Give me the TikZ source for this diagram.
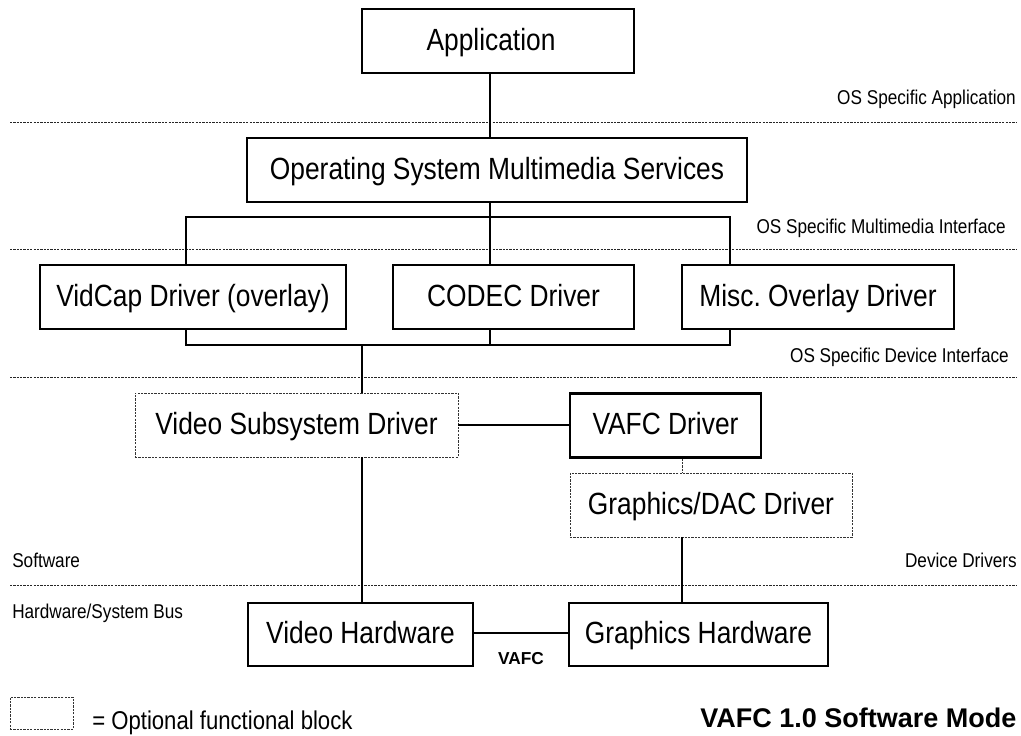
\documentclass[tikz,border=0pt]{standalone}
\usepackage{fontspec}
\setmainfont{Liberation Sans}
\newfontfamily\narrowfont{Liberation Sans}[FakeStretch=0.86]
\usetikzlibrary{positioning, calc}

\begin{document}
\frenchspacing
\begin{tikzpicture}[
    x=0.025cm, y=-0.025cm,
    % Node styles
    blockbox/.style={
        rectangle,
        draw=black,
        line width=1.5pt,
        inner sep=0pt,
        minimum height=1.6cm,
        text height=15.7pt,
        text depth=2.8pt,
        font=\narrowfont\fontsize{21.8}{24}\selectfont,
        align=center
    },
    optbox/.style={
        blockbox,
        line width=0.5pt,
        dash pattern=on 1.6pt off 0.8pt,
        draw=black!80
    },
    layerlabel/.style={
        inner sep=0pt,
        font=\narrowfont\fontsize{14.2}{16}\selectfont
    },
    link/.style={
        line width=1.4pt,
        black
    },
    optlink/.style={
        line width=0.5pt,
        dash pattern=on 1.6pt off 0.8pt,
        black!80
    },
    sepline/.style={
        line width=0.4pt,
        dash pattern=on 1.6pt off 0.8pt,
        black!85
    }
]
\useasboundingbox (0,0) rectangle (1021,736);

% === Layer separators ===
\draw[sepline] (10,122) -- (1017,122);
\draw[sepline] (10,249) -- (1017,249);
\draw[sepline] (10,377) -- (1017,377);
\draw[sepline] (10,585) -- (1017,585);

\node[layerlabel, anchor=base east] (lblapp) at (1016,105) {OS Specific Application};
\node[layerlabel, anchor=base east] (lblmm) at (1006,233) {OS Specific Multimedia Interface};
\node[layerlabel, anchor=base east] (lbldev) at (1009,362) {OS Specific Device Interface};
\node[layerlabel, anchor=base east] (lbldrv) at (1017,567) {Device Drivers};
\node[layerlabel, anchor=base west] (lblsw) at (12,567) {Software};
\node[layerlabel, anchor=base west] (lblhw) at (12,618) {Hardware/System Bus};

% === Blocks ===
\node[blockbox, minimum width=6.8cm] (app) at (498,41) {\hspace*{-0.35cm}Application};
\node[blockbox, minimum width=12.5cm] (osms) at (497,170) {Operating System Multimedia Services};

\node[blockbox, minimum width=7.65cm] (vidcap) at (193,297) {VidCap Driver (overlay)};
\node[blockbox, minimum width=6.025cm] (codec) at (513.5,297) {CODEC Driver};
\node[blockbox, minimum width=6.8cm] (misc) at (818,297) {Misc. Overlay Driver};

\node[optbox, minimum width=8.075cm] (vsd) at (296.5,425) {Video Subsystem Driver};
\node[blockbox, minimum width=4.775cm] (vafc) at (665.5,425.5) {VAFC Driver};
\node[optbox, minimum width=7.05cm] (gdac) at (711,505) {Graphics/DAC Driver};

\node[blockbox, minimum width=5.625cm, minimum height=1.575cm] (vhw) at (360.5,634.5) {Video Hardware};
\node[blockbox, minimum width=6.475cm, minimum height=1.575cm] (ghw) at (698.5,634.5) {Graphics Hardware};

% === Connectors ===
\coordinate (trunk) at (490,217);
\coordinate (tapL) at (186,217);
\coordinate (tapR) at (730,217);
\coordinate (busL) at (186,345);
\coordinate (busR) at (730,345);
\coordinate (busM) at (362,345);
\coordinate (gtap) at (682,465);

\draw[link] (app.south -| trunk) -- (osms.north -| trunk);
\draw[link] (osms.south -| trunk) -- (trunk);
\draw[link] (vidcap.north -| tapL) -- (tapL) -- (tapR) -- (misc.north -| tapR);
\draw[link] (trunk) -- (codec.north -| trunk);
\draw[link] (vidcap.south -| busL) -- (busL) -- (busR) -- (misc.south -| busR);
\draw[link] (codec.south -| trunk) -- (trunk |- busL);
\draw[link] (busM) -- (vsd.north -| busM);
\draw[link] (vsd.east) -- (vsd.east -| vafc.west);
\draw[optlink] (vafc.south -| gtap) -- (gdac.north -| gtap);
\draw[link] (vsd.south -| busM) -- (vhw.north -| busM);
\draw[link] (gdac.south -| gtap) -- (ghw.north -| gtap);
\draw[link] ([yshift=0.04cm]vhw.east) -- node[below=0.47cm, inner sep=0pt, font=\bfseries\fontsize{12.3}{14}\selectfont] {VAFC} ([yshift=0.04cm]ghw.west);

% === Legend ===
\node[optbox, minimum width=1.575cm, minimum height=0.8cm] (legbox) at (41.5,713) {};
\node[anchor=base west, inner sep=0pt, font=\narrowfont\fontsize{18.3}{20}\selectfont] (legtxt) at (92,729) {= Optional functional block};
\node[anchor=base west, inner sep=0pt, font=\bfseries\fontsize{19.2}{21}\selectfont] (title) at (700,727) {VAFC 1.0 Software Mode};

\end{tikzpicture}
\end{document}
